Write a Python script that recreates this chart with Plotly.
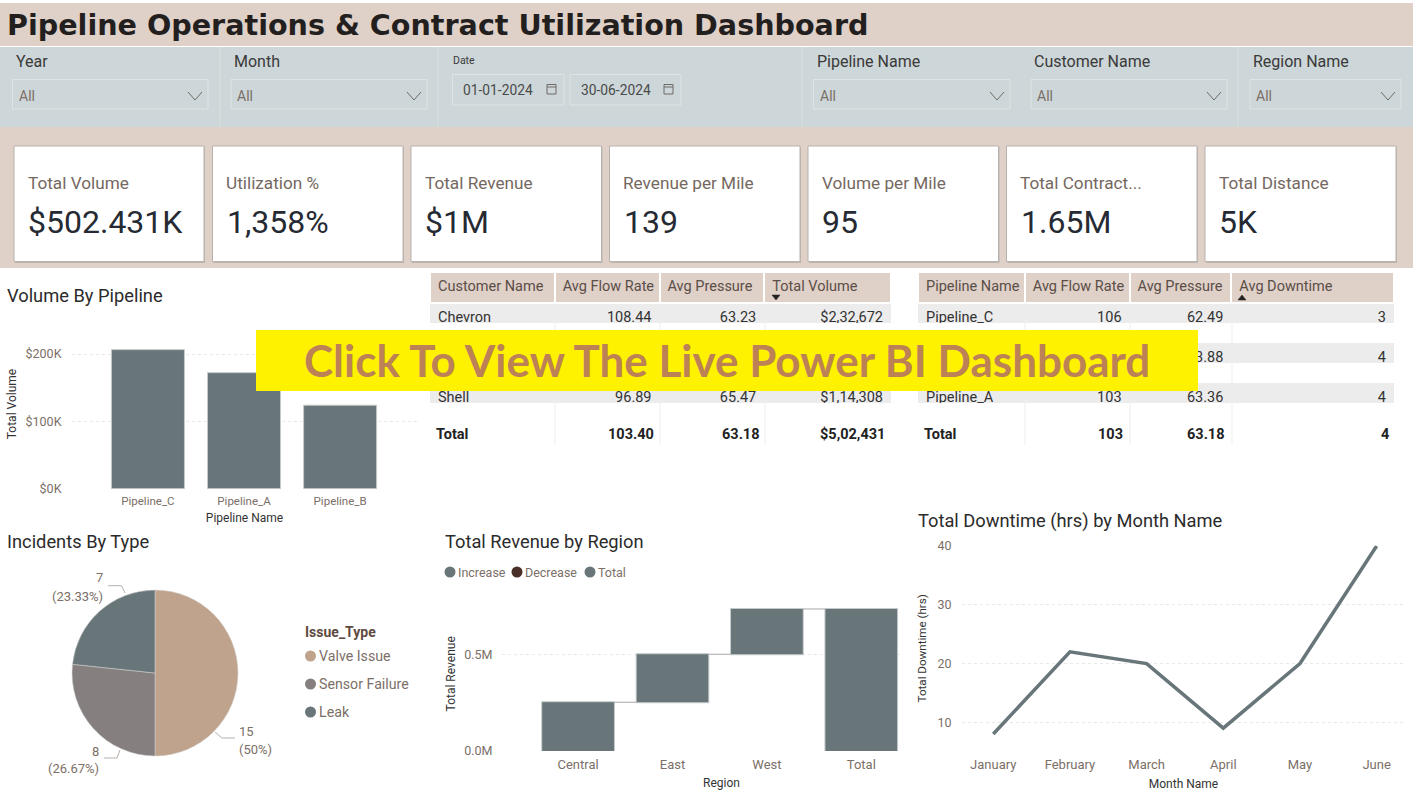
import plotly.graph_objects as go

W, H = 1415, 793

# ---------- data ----------
dashboard_title = "Pipeline Operations & Contract Utilization Dashboard"
banner_text = "Click To View The Live Power BI Dashboard"

kpi_titles = ["Total Volume", "Utilization %", "Total Revenue", "Revenue per Mile",
              "Volume per Mile", "Total Contract...", "Total Distance"]
kpi_values = ["$502.431K", "1,358%", "$1M", "139", "95", "1.65M", "5K"]

slicer_names = ["Year", "Month", "Pipeline Name", "Customer Name", "Region Name"]
slicer_value = "All"
date_label = "Date"
date_values = ["01-01-2024", "30-06-2024"]

pipelines = ["Pipeline_C", "Pipeline_A", "Pipeline_B"]
pipeline_volume = [206500, 172300, 124000]

issue_types = ["Valve Issue", "Sensor Failure", "Leak"]
issue_counts = [15, 8, 7]
issue_pct_labels = ["(50%)", "(26.67%)", "(23.33%)"]

regions = ["Central", "East", "West", "Total"]
region_revenue = [252000, 248000, 234000, 734000]
waterfall_measure = ["relative", "relative", "relative", "total"]
waterfall_legend = ["Increase", "Decrease", "Total"]

months = ["January", "February", "March", "April", "May", "June"]
downtime = [8, 22, 20, 9, 20, 40]

t1_header = ["Customer Name", "Avg Flow Rate", "Avg Pressure", "Total Volume"]
t1_customer = ["Chevron", "", "Shell"]
t1_flow = ["108.44", "", "96.89"]
t1_pressure = ["63.23", "", "65.47"]
t1_volume = ["$2,32,672", "", "$1,14,308"]
t1_total = ["Total", "103.40", "63.18", "$5,02,431"]

t2_header = ["Pipeline Name", "Avg Flow Rate", "Avg Pressure", "Avg Downtime"]
t2_pipeline = ["Pipeline_C", "", "Pipeline_A"]
t2_flow = ["106", "", "103"]
t2_pressure = ["62.49", "3.88", "63.36"]
t2_downtime = ["3", "4", "4"]
t2_total = ["Total", "103", "63.18", "4"]

# ---------- style ----------
TAN = "#DFD0C8"
SLATE = "#CDD6D8"
BAR = "#68767A"
TICK = "#7B6F67"
DARK = "#2B2B2B"
FONT = "Roboto"
PIE_COLORS = ["#BFA38C", "#857F7F", "#68767A"]
CLEAR = "rgba(0,0,0,0)"


def X(px):
    return px / W


def Y(py):
    return 1 - py / H


shapes, notes = [], []


def rect(x0, y0, x1, y1, fill=None, line=None, lw=1, layer="below"):
    shapes.append(dict(type="rect", xref="paper", yref="paper", x0=X(x0), x1=X(x1), y0=Y(y1), y1=Y(y0),
                       fillcolor=fill or CLEAR,
                       line=dict(color=line or CLEAR, width=lw if line else 0), layer=layer))


def seg(pts, color, lw=1, layer="above", fill=None):
    d = "M" + " L".join(f"{X(a):.5f},{Y(b):.5f}" for a, b in pts) + (" Z" if fill else "")
    shapes.append(dict(type="path", xref="paper", yref="paper", path=d, layer=layer,
                       fillcolor=fill or CLEAR, line=dict(color=color, width=lw)))


def dot(cx, cy, r, fill):
    shapes.append(dict(type="circle", xref="paper", yref="paper", x0=X(cx - r), x1=X(cx + r), y0=Y(cy + r),
                       y1=Y(cy - r), fillcolor=fill, line=dict(width=0), layer="above"))


def text(x, y, s, size, color=DARK, family=FONT, anchor="left", weight=400, angle=0):
    nudge = {"left": -2, "right": 2, "center": 0}[anchor]
    notes.append(dict(xref="paper", yref="paper", x=X(x + nudge), y=Y(y), text=s, showarrow=False, xanchor=anchor,
                      yanchor="middle", textangle=angle, align=anchor,
                      font=dict(size=size, color=color, family=family, weight=weight)))


# title band / slicer band / KPI band
rect(0, 3, 1413, 46, fill=TAN)
rect(0, 47, 1413, 127, fill=SLATE)
rect(0, 127, 1413, 268, fill=TAN)
text(7, 25, dashboard_title, 28.6, color="#231F1E", family="DejaVu Sans", weight=700)

for sx in [220, 438, 802, 1238]:
    seg([(sx, 47), (sx, 127)], "#D9E0E2", 1, layer="below")

slicer_x = [(12.5, 208), (231, 427), (813.5, 1010), (1031, 1227), (1250, 1401)]
for name, (x0, x1) in zip(slicer_names, slicer_x):
    text(x0 + 3, 62, name, 16, color="#3A3A3A")
    rect(x0, 79.5, x1, 109, line="#DDE4E6", lw=1)
    text(x0 + 6, 96, slicer_value, 14, color="#7B6F67")
    seg([(x1 - 20, 92), (x1 - 13, 100), (x1 - 6, 92)], "#6E6A66", 1)

text(453, 60, date_label, 10.5, color="#3A3A3A")
for (x0, x1), dv in zip([(452.5, 564), (570, 681)], date_values):
    rect(x0, 74.5, x1, 105, line="#DDE4E6", lw=1)
    text(x0 + 10.5, 90, dv, 13.8, color="#4A4A4A")
    rect(x1 - 17, 84.5, x1 - 8, 94, line="#6E6A66", lw=1)
    seg([(x1 - 17, 87), (x1 - 8, 87)], "#6E6A66", 1)

card_x = [(14, 204), (212.5, 403), (411, 601.5), (609.5, 800), (808, 998.5), (1006.5, 1197), (1205, 1396)]
for (x0, x1), t, v in zip(card_x, kpi_titles, kpi_values):
    rect(x0 + 1, 147, x1 + 1, 263, fill="#BDB5AF")
    rect(x0, 146, x1, 261.5, fill="white", line="#B8B2AD", lw=1)
    text(x0 + 13.5, 183, t, 17.2, color="#75685F")
    text(x0 + 14, 222, v, 32, color="#252A33")

# chart titles
text(7, 295, "Volume By Pipeline", 18.3)
text(7, 541, "Incidents By Type", 18.3)
text(445, 541, "Total Revenue by Region", 18.3)
text(918, 521, "Total Downtime (hrs) by Month Name", 18.3)

# pie labels and legend
count_pos = [(239, 731.7, "left"), (99, 751, "right"), (103, 577, "right")]
pct_pos = [(239, 749, "left"), (99, 768, "right"), (103, 596, "right")]
for n, p, cp, pp in zip(issue_counts, issue_pct_labels, count_pos, pct_pos):
    text(cp[0], cp[1], str(n), 13, color=TICK, anchor=cp[2])
    text(pp[0], pp[1], p, 13, color=TICK, anchor=pp[2])
seg([(215, 732), (222, 738), (235, 738)], "#B5B0AC")
seg([(120, 750), (117, 758), (104, 758)], "#B5B0AC")
seg([(125, 593), (121.5, 585.7), (108, 585.7)], "#B5B0AC")
text(305, 632, "Issue_Type", 14, color="#5F4B3F", weight=700)
for name, col, ly in zip(issue_types, PIE_COLORS, [656, 684, 712]):
    dot(310.5, ly, 5.5, col)
    text(319, ly, name, 14.2, color=TICK)

# waterfall legend and its x-axis title
for name, col, cx in zip(waterfall_legend, [BAR, "#4A2E28", BAR], [450, 517, 590]):
    dot(cx, 572, 5.5, col)
    text(cx + 8, 572, name, 12.5, color=TICK)
text(721, 783, "Region", 12, color="#333333", anchor="center")

fig = go.Figure()


def ydom(top, bottom):
    return [1 - bottom / H, 1 - top / H]


def yaxis_style(ticklen):
    return dict(showgrid=True, gridcolor="#E8E8E8", griddash="dot", gridwidth=1, zeroline=False, showline=False,
                tickfont=dict(size=12.5, color=TICK, family=FONT), ticks="outside", ticklen=ticklen, tickcolor=CLEAR,
                automargin=False)


def xaxis_style(ticklen, size):
    return dict(showgrid=False, zeroline=False, showline=False, ticks="outside", ticklen=ticklen, tickcolor=CLEAR,
                automargin=False, tickfont=dict(size=size, color=TICK, family=FONT), type="category")


AT = dict(size=12, color="#333333", family=FONT)

# bar chart
fig.add_trace(go.Bar(x=pipelines, y=pipeline_volume, marker=dict(color=BAR, line=dict(color="#C5CBCC", width=1)),
                     width=0.76, xaxis="x", yaxis="y", showlegend=False))
# pie
fig.add_trace(go.Pie(labels=issue_types, values=issue_counts, sort=False, direction="clockwise", rotation=0,
                     marker=dict(colors=PIE_COLORS, line=dict(color="#D5D5D5", width=0.5)), textinfo="none",
                     showlegend=False, domain=dict(x=[X(72), X(238)], y=[Y(756), Y(590)])))
# waterfall
fig.add_trace(go.Waterfall(x=regions, y=region_revenue, measure=waterfall_measure, xaxis="x2", yaxis="y2",
                           width=0.77, showlegend=False,
                           increasing=dict(marker=dict(color=BAR, line=dict(color="#C5CBCC", width=1))),
                           decreasing=dict(marker=dict(color="#4A2E28")),
                           totals=dict(marker=dict(color=BAR, line=dict(color="#C5CBCC", width=1))),
                           connector=dict(line=dict(color="#A9A9A9", width=1))))
# line
fig.add_trace(go.Scatter(x=months, y=downtime, mode="lines", line=dict(color=BAR, width=3.5), xaxis="x3", yaxis="y3",
                         cliponaxis=False, showlegend=False))


# tables: three shaded rows separated by white gaps, then a bold total line
def spaced(col):
    out = []
    for v in col:
        out += [v, ""]
    return out


def table(x0, x1, widths, header, cols, totals, total_x):
    rows = [spaced(c) for c in cols]
    fills = ["#ECECEC" if i % 2 == 0 else "white" for i in range(6)]
    aligns = ["left", "right", "right", "right"]
    fig.add_trace(go.Table(
        domain=dict(x=[X(x0), X(x1)], y=[Y(446), Y(272)]), columnwidth=widths,
        header=dict(values=[h.replace(" ", "\u00a0") for h in header], height=31, fill=dict(color=TAN),
                    line=dict(color="white", width=2),
                    align="left", font=dict(size=14.5, color="#5A4E47", family=FONT)),
        cells=dict(values=rows, height=20, fill=dict(color=[fills] * 4), line=dict(color=CLEAR, width=0),
                   align=aligns, font=dict(size=14.5, color="#333333", family=FONT))))
    for i, (v, tx) in enumerate(zip(totals, total_x)):
        text(tx, 434, v, 14.5, color="#222222", anchor="left" if i == 0 else "right", weight=700)


table(430, 892, [125, 105, 105, 127], t1_header, [t1_customer, t1_flow, t1_pressure, t1_volume], t1_total,
      [436, 654, 759, 885])
table(918, 1395, [107, 105, 102, 163], t2_header, [t2_pipeline, t2_flow, t2_pressure, t2_downtime], t2_total,
      [924, 1123, 1224, 1389])

for sx in [555, 660, 765, 1025, 1130, 1232]:
    seg([(sx, 304), (sx, 445)], "#EDEDED", 1)
seg([(772, 295), (780, 295), (776, 300)], "#222222", 0.5, fill="#222222")
seg([(1238, 300), (1246, 300), (1242, 295)], "#222222", 0.5, fill="#222222")

# banner (above everything)
rect(256, 330, 1198, 391, fill="#FFF200", layer="above")
text(727, 360, banner_text, 44, color="#BC8255", family="Lato", anchor="center", weight=700)

fig.update_layout(
    width=W, height=H, margin=dict(l=0, r=0, t=0, b=0, pad=0), paper_bgcolor="white", plot_bgcolor=CLEAR,
    shapes=shapes, annotations=notes, font=dict(family=FONT),
    xaxis=dict(xaxis_style(1, 11.5), domain=[X(72), X(417)], range=[-0.79, 2.80], anchor="y",
               title=dict(text="Pipeline Name", font=AT, standoff=7)),
    yaxis=dict(yaxis_style(7), domain=ydom(319.4, 488.7), range=[0, 251400], anchor="x",
               tickvals=[0, 100000, 200000], ticktext=["$0K", "$100K", "$200K"],
               title=dict(text="Total Volume", font=AT, standoff=6)),
    xaxis2=dict(xaxis_style(1, 13), domain=[X(502), X(900)], range=[-0.806, 3.41], anchor="y2"),
    yaxis2=dict(yaxis_style(6), domain=ydom(596.6, 751), range=[0, 798000], anchor="x2", tickvals=[0, 500000],
                ticktext=["0.0M", "0.5M"], title=dict(text="Total Revenue", font=AT, standoff=6)),
    xaxis3=dict(xaxis_style(1, 13), domain=[X(962), X(1405)], range=[-0.408, 5.37], anchor="y3",
                title=dict(text="Month Name", font=AT, standoff=9)),
    yaxis3=dict(yaxis_style(7), domain=ydom(545.6, 751), range=[5.117, 40.07], anchor="x3",
                tickvals=[10, 20, 30, 40], title=dict(text="Total Downtime (hrs)", font=dict(AT, size=11.6), standoff=8)),
)

fig.write_html("out.html", config=dict(displayModeBar=False),
               post_script="document.body.style.margin='0';document.body.style.overflow='hidden';")
